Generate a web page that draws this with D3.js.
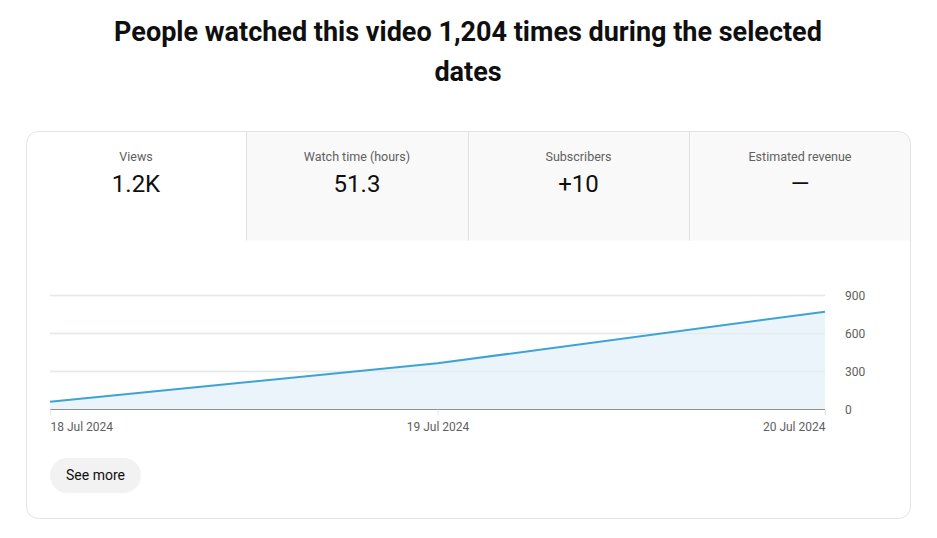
<!DOCTYPE html>
<html>
<head>
<meta charset="utf-8">
<script src="https://cdn.jsdelivr.net/npm/d3@7"></script>
<style>
html,body{margin:0;padding:0;background:#fff;}
svg{display:block;font-family:Roboto,"Noto Sans",sans-serif;}
</style>
</head>
<body>
<svg id="chart" width="937" height="538"></svg>
<script>
const titleLines = ["People watched this video 1,204 times during the selected", "dates"];
const tabLabels = ["Views", "Watch time (hours)", "Subscribers", "Estimated revenue"];
const tabValues = ["1.2K", "51.3", "+10", "—"];
const dates = ["2024-07-18", "2024-07-19", "2024-07-20"];
const dateLabels = ["18 Jul 2024", "19 Jul 2024", "20 Jul 2024"];
const views = [58, 361, 768];
const yTicks = [0, 300, 600, 900];
const buttonLabel = "See more";

const svg = d3.select("#chart");

// Title
svg.append("g").selectAll("text").data(titleLines).join("text")
  .attr("x", 468).attr("y", (d, i) => 41 + i * 40)
  .attr("text-anchor", "middle")
  .attr("font-size", 27).attr("font-weight", 700).attr("fill", "#0f0f0f")
  .text(d => d);

// Card
const card = {x: 26.5, y: 131.5, w: 884, h: 387, r: 12};
const clip = svg.append("defs").append("clipPath").attr("id", "cardclip");
clip.append("rect").attr("x", card.x).attr("y", card.y).attr("width", card.w).attr("height", card.h).attr("rx", card.r);

const tabEdges = [26, 246, 468, 689, 911];
const tabH = 109;
const tabs = svg.append("g").attr("clip-path", "url(#cardclip)");
tabs.selectAll("rect").data(tabLabels).join("rect")
  .attr("x", (d, i) => tabEdges[i]).attr("y", card.y)
  .attr("width", (d, i) => tabEdges[i + 1] - tabEdges[i]).attr("height", tabH)
  .attr("fill", (d, i) => i === 0 ? "#ffffff" : "#f9f9f9");
tabs.selectAll("line").data(tabLabels.slice(1)).join("line")
  .attr("x1", (d, i) => tabEdges[i + 1] + 0.5)
  .attr("x2", (d, i) => tabEdges[i + 1] + 0.5)
  .attr("y1", card.y).attr("y2", card.y + tabH)
  .attr("stroke", "#e0e0e0");

svg.append("rect").attr("x", card.x).attr("y", card.y).attr("width", card.w).attr("height", card.h)
  .attr("rx", card.r).attr("fill", "none").attr("stroke", "#e3e3e3");

const tabCenter = i => (tabEdges[i] + tabEdges[i + 1]) / 2;
svg.append("g").selectAll("text").data(tabLabels).join("text")
  .attr("x", (d, i) => tabCenter(i)).attr("y", 161)
  .attr("text-anchor", "middle").attr("font-size", 12.5).attr("fill", "#606060")
  .text(d => d);
svg.append("g").selectAll("text").data(tabValues).join("text")
  .attr("x", (d, i) => tabCenter(i)).attr("y", 192)
  .attr("text-anchor", "middle").attr("font-size", 24).attr("fill", "#0f0f0f")
  .text(d => d);

// Chart
const parse = d3.timeParse("%Y-%m-%d");
const data = dates.map((d, i) => ({date: parse(d), v: views[i]}));
const x = d3.scaleTime().domain(d3.extent(data, d => d.date)).range([50, 825]);
const y = d3.scaleLinear().domain([0, 900]).range([409, 295]);

const g = svg.append("g");
g.selectAll("line.grid").data(yTicks.filter(t => t > 0)).join("line").attr("class", "grid")
  .attr("x1", 50).attr("x2", 825).attr("y1", d => y(d) + 0.5).attr("y2", d => y(d) + 0.5)
  .attr("stroke", "#ececec").attr("stroke-width", 1.5);

const area = d3.area().x(d => x(d.date)).y0(y(0)).y1(d => y(d.v)).curve(d3.curveLinear);
const line = d3.line().x(d => x(d.date)).y(d => y(d.v)).curve(d3.curveLinear);
g.append("path").datum(data).attr("d", area).attr("fill", "#e9f3fa").attr("fill-opacity", 0.95);
g.selectAll("line.grid2").data(yTicks.filter(t => t > 0)).join("line").attr("class", "grid2")
  .attr("x1", 50).attr("x2", 825).attr("y1", d => y(d) + 0.5).attr("y2", d => y(d) + 0.5)
  .attr("stroke", "#dfe6ec").attr("stroke-width", 1.5).attr("stroke-opacity", 0.5);
g.append("path").datum(data).attr("d", line).attr("fill", "none")
  .attr("stroke", "#3ea3d3").attr("stroke-width", 2).attr("stroke-linejoin", "round");

// X axis
const xAxis = d3.axisBottom(x).tickValues(data.map(d => d.date))
  .tickFormat((d, i) => dateLabels[i]).tickSize(6).tickPadding(7);
const xg = svg.append("g").attr("transform", `translate(0,${y(0) + 0.5})`).call(xAxis);
xg.select(".domain").attr("stroke", "#909090").attr("d", "M50,0H825");
xg.selectAll(".tick line").attr("stroke", "#e6e6e6");
xg.selectAll(".tick text").attr("font-size", 12).attr("fill", "#606060")
  .attr("font-family", "Roboto,sans-serif")
  .attr("text-anchor", (d, i) => i === 0 ? "start" : (i === data.length - 1 ? "end" : "middle"));

// Y axis
const yAxis = d3.axisRight(y).tickValues(yTicks).tickSize(0).tickPadding(20);
const yg = svg.append("g").attr("transform", "translate(825,1)").call(yAxis);
yg.select(".domain").remove();
yg.selectAll(".tick text").attr("font-size", 12).attr("fill", "#606060").attr("font-family", "Roboto,sans-serif");

// Button
const btn = svg.append("g");
btn.append("rect").attr("x", 50).attr("y", 458).attr("width", 91).attr("height", 35).attr("rx", 17.5)
  .attr("fill", "#f2f2f2");
btn.append("text").attr("x", 95.5).attr("y", 480).attr("text-anchor", "middle")
  .attr("font-size", 14).attr("font-weight", 400).attr("fill", "#0f0f0f").text(buttonLabel);
</script>
</body>
</html>
